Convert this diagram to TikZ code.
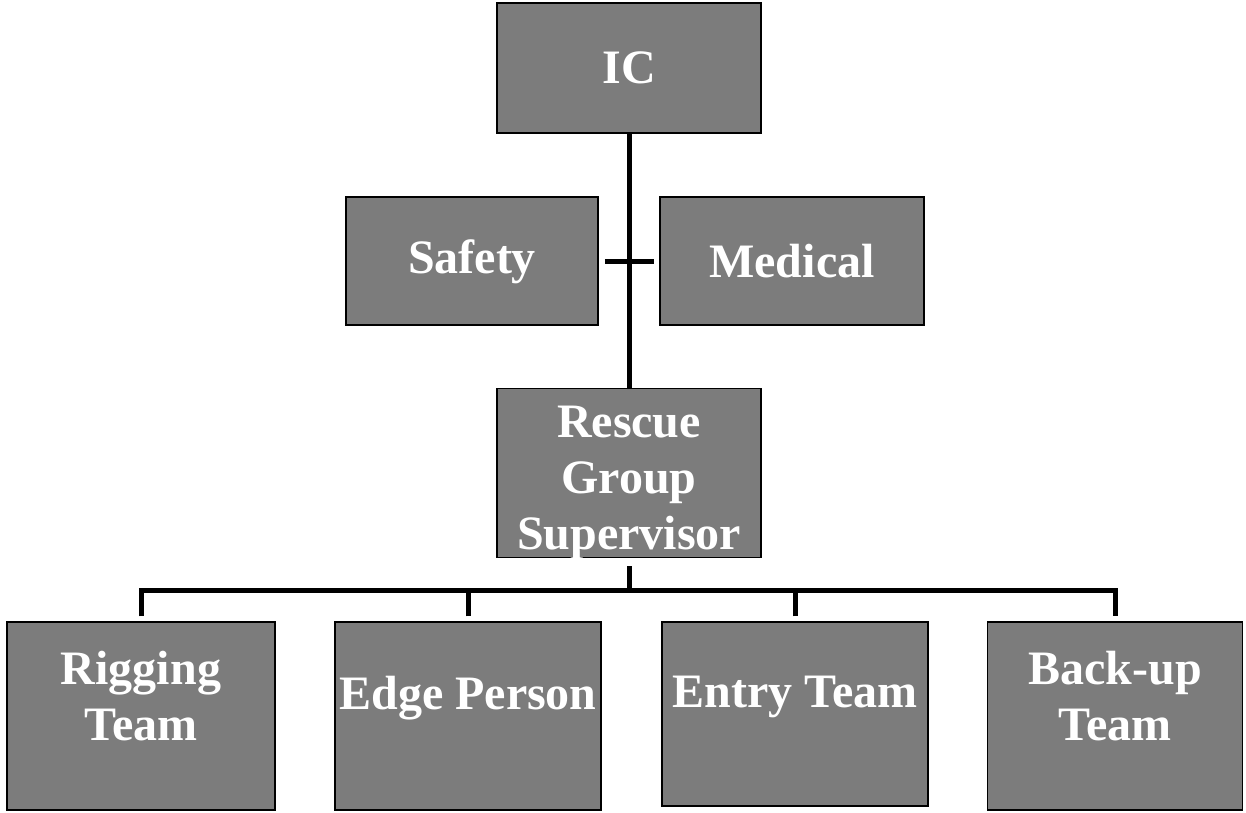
\documentclass[tikz,border=0pt]{standalone}
\usepackage{fontspec}
\setmainfont{Liberation Serif}
\usepackage{tikz}
\definecolor{boxgray}{RGB}{124,124,124}

\begin{document}
\begin{tikzpicture}[x=1pt,y=-1pt,line cap=butt,
	box/.style={draw=black,line width=1.5pt,fill=boxgray,text=white,align=center,
		font=\fontsize{48}{56}\selectfont\bfseries,inner sep=0pt},
	link/.style={line width=5pt,black}]
	\useasboundingbox (0,0) rectangle (1246,812);
	%% Top
	\node[box,minimum width=264pt,minimum height=130pt] (ic) at (629,68) {IC};
	\node[box,minimum width=252pt,minimum height=128pt,text depth=8pt] (safety) at (472,261) {Safety};
	\node[box,minimum width=264pt,minimum height=128pt] (medical) at (792,261) {Medical};
	\node[box,minimum width=264pt,minimum height=169pt,text height=154pt,text depth=2pt] (rescue) at (629,473) {Rescue\\Group\\Supervisor};
	%% Teams
	\node[box,minimum width=268pt,minimum height=188pt,text depth=40pt] (rigging) at (141,716) {Rigging\\Team};
	\node[box,minimum width=266pt,minimum height=188pt,text depth=46pt] (edge) at (468,716) {Edge Person};
	\node[box,minimum width=266pt,minimum height=184pt,text depth=44pt] (entry) at (795,714) {Entry Team};
	\node[box,minimum width=255pt,minimum height=188pt,text depth=40pt] (backup) at (1115,716) {Back-up\\Team};
	\coordinate (bus) at (629,590);
	%% Links
	\draw[link] (ic.south) -- (rescue.north);
	\draw[link,shorten <=6pt,shorten >=5pt] (safety.east) -- (medical.west);
	\draw[link,shorten <=8pt] (rescue.south) -- (bus);
	\draw[link,shorten <=5pt,shorten >=5pt] (rigging.north) |- (bus) -| (backup.north);
	\draw[link,shorten <=5pt] (edge.north) -- (edge.north |- bus);
	\draw[link,shorten <=5pt] (entry.north) -- (entry.north |- bus);
\end{tikzpicture}
\end{document}
